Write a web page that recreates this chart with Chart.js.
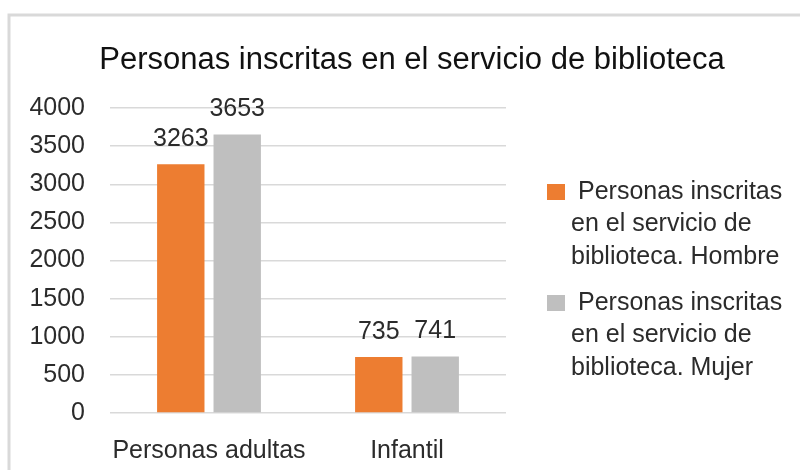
<!DOCTYPE html>
<html>
<head>
<meta charset="utf-8">
<script src="https://cdn.jsdelivr.net/npm/chart.js@4.4.1/dist/chart.umd.min.js"></script>
<style>
  html, body { margin: 0; padding: 0; background: #fff; }
</style>
</head>
<body>
<canvas id="chart" width="800" height="470"></canvas>
<script>
const categories = ["Personas adultas", "Infantil"];
const hombre = [3263, 735];
const mujer = [3653, 741];
const seriesLabels = [
    "Personas inscritas en el servicio de biblioteca. Hombre",
    "Personas inscritas en el servicio de biblioteca. Mujer"
];
const chartTitle = "Personas inscritas en el servicio de biblioteca";
const yMin = 0;
const yMax = 4000;
const yStep = 500;

const FONT = '"Liberation Sans", Arial, sans-serif';
const TEXT = '#2b2b2b';

// frame lines (top + left) and the title, centred over the whole picture
const framePlugin = {
    id: 'frame',
    beforeDraw(chart) {
        const ctx = chart.ctx;
        ctx.save();
        ctx.fillStyle = '#ffffff';
        ctx.fillRect(0, 0, chart.width, chart.height);
        ctx.strokeStyle = '#d9d9d9';
        ctx.lineWidth = 3;
        ctx.beginPath();
        ctx.moveTo(9, chart.height);
        ctx.lineTo(9, 15);
        ctx.lineTo(chart.width, 15);
        ctx.stroke();

        ctx.font = '31px ' + FONT;
        ctx.fillStyle = '#111111';
        ctx.textAlign = 'center';
        ctx.textBaseline = 'alphabetic';
        ctx.fillText(chartTitle, 412, 69);
        ctx.restore();
    }
};

// value labels above bars
const valueLabels = {
    id: 'valueLabels',
    afterDatasetsDraw(chart) {
        const ctx = chart.ctx;
        ctx.save();
        ctx.font = '25px ' + FONT;
        ctx.fillStyle = TEXT;
        ctx.textAlign = 'center';
        ctx.textBaseline = 'alphabetic';
        chart.data.datasets.forEach((ds, i) => {
            chart.getDatasetMeta(i).data.forEach((bar, j) => {
                ctx.fillText(String(ds.data[j]), bar.x, bar.y - 18);
            });
        });
        ctx.restore();
    }
};

// legend on the right with wrapped text
const sideLegend = {
    id: 'sideLegend',
    afterDraw(chart) {
        const ctx = chart.ctx;
        ctx.save();
        ctx.font = '25px ' + FONT;
        ctx.textBaseline = 'middle';
        ctx.textAlign = 'left';
        const lineH = 32.5;
        let y = 192;
        chart.data.datasets.forEach(ds => {
            const words = ds.label.split(' ');
            const lines = [];
            let cur = '';
            words.forEach(w => {
                const test = cur ? cur + ' ' + w : w;
                const limit = lines.length === 0 ? 211 : 218;
                if (cur && ctx.measureText(test).width > limit) {
                    lines.push(cur);
                    cur = w;
                } else {
                    cur = test;
                }
            });
            if (cur) lines.push(cur);

            ctx.fillStyle = ds.backgroundColor;
            ctx.fillRect(547, y - 8, 18, 16);
            ctx.fillStyle = TEXT;
            lines.forEach((line, k) => {
                ctx.fillText(line, k === 0 ? 578 : 571, y + k * lineH);
            });
            y += lines.length * lineH + 13.5;
        });
        ctx.restore();
    }
};

const ctx = document.getElementById("chart").getContext("2d");

new Chart(ctx, {
    type: "bar",
    data: {
        labels: categories,
        datasets: [
            {
                label: seriesLabels[0],
                data: hombre,
                backgroundColor: '#ED7D31',
                categoryPercentage: 0.57,
                barPercentage: 0.84
            },
            {
                label: seriesLabels[1],
                data: mujer,
                backgroundColor: '#BFBFBF',
                categoryPercentage: 0.57,
                barPercentage: 0.84
            }
        ]
    },
    options: {
        responsive: false,
        animation: false,
        layout: {
            padding: { left: 10, right: 294, top: 108, bottom: 0 }
        },
        plugins: {
            legend: { display: false },
            tooltip: { enabled: false },
            title: { display: false }
        },
        scales: {
            x: {
                grid: { display: false },
                border: { display: false },
                ticks: {
                    color: TEXT,
                    font: { family: FONT, size: 25 },
                    padding: 15,
                    maxRotation: 0,
                    minRotation: 0,
                    autoSkip: false
                },
                afterFit: s => { s.height = 57; }
            },
            y: {
                min: yMin,
                max: yMax,
                grid: { color: '#d9d9d9', lineWidth: 1.5, drawTicks: false },
                border: { display: false },
                ticks: {
                    stepSize: yStep,
                    color: TEXT,
                    font: { family: FONT, size: 25 },
                    padding: 25,
                    callback: v => String(v)
                },
                afterFit: s => { s.width = 100; }
            }
        }
    },
    plugins: [framePlugin, valueLabels, sideLegend]
});
</script>
</body>
</html>
